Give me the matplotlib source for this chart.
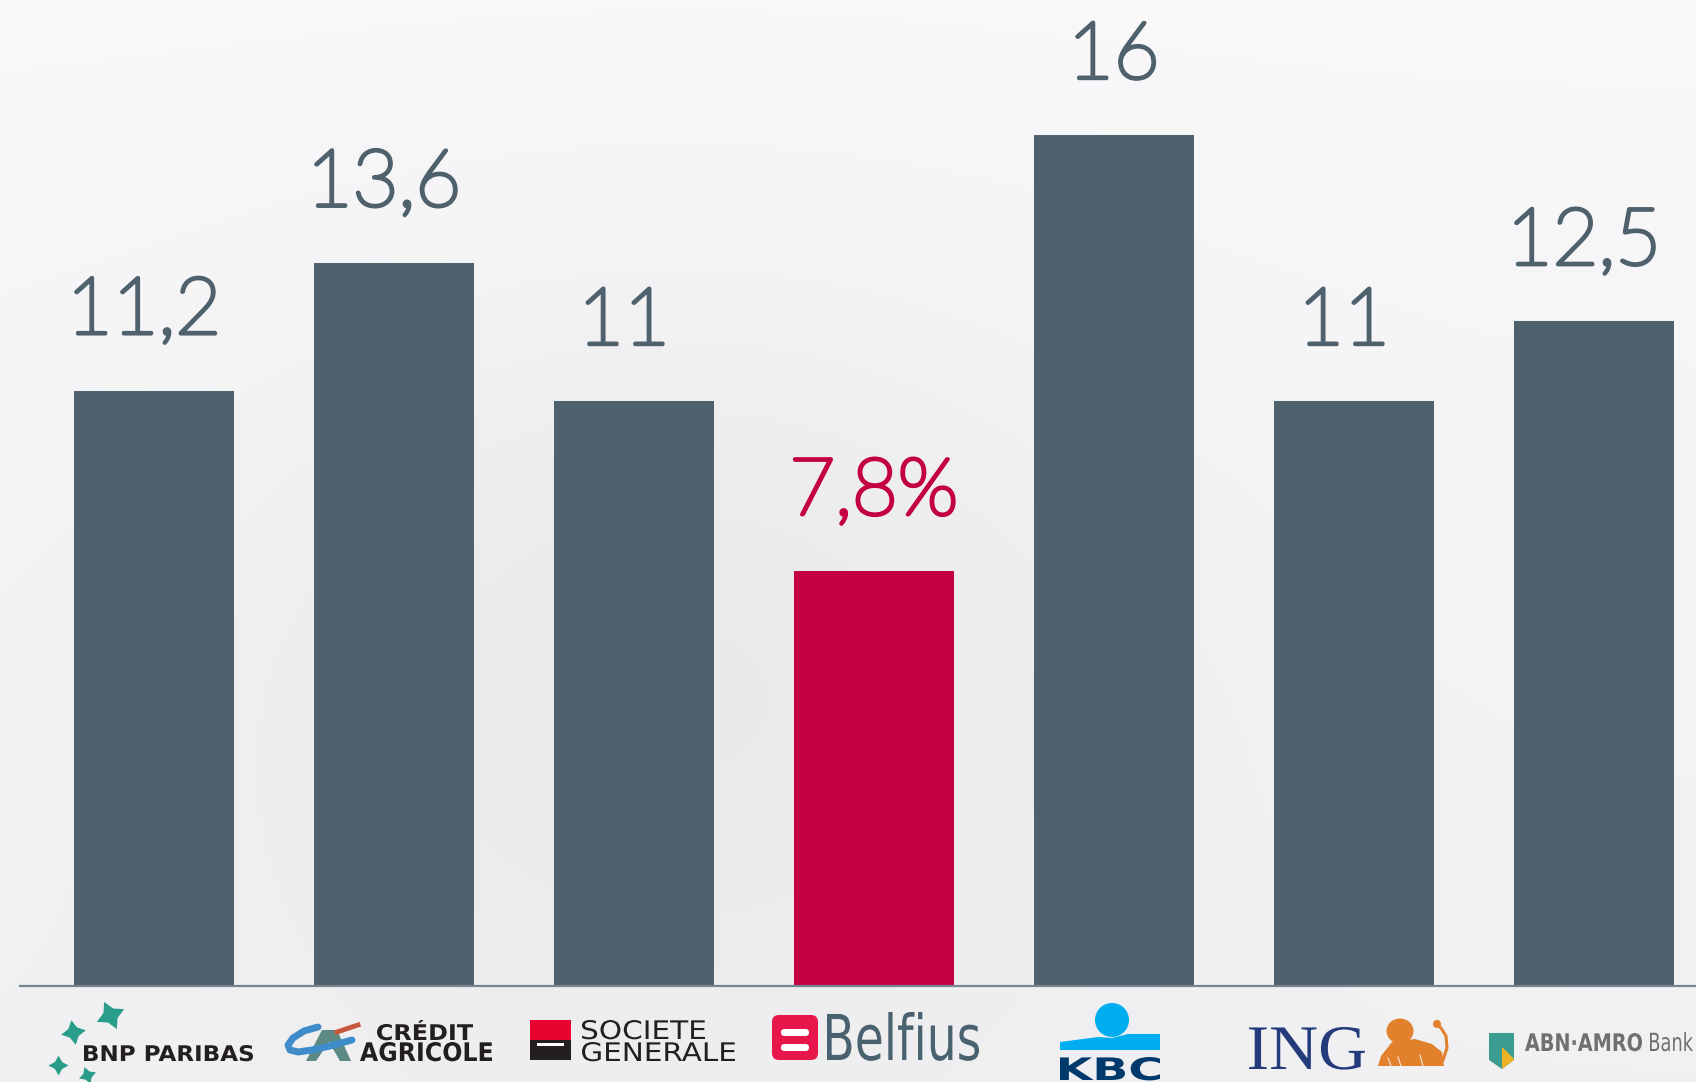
import numpy as np
import matplotlib.pyplot as plt
import matplotlib.patheffects as pe
from matplotlib.patches import Rectangle, FancyBboxPatch, Circle, Ellipse, Polygon, PathPatch
from matplotlib.textpath import TextPath
from matplotlib.font_manager import FontProperties
from matplotlib.transforms import Affine2D

###
# DATA
###
banks = ["BNP Paribas", "Crédit Agricole", "Société Générale", "Belfius", "KBC", "ING", "ABN AMRO"]
values = [11.2, 13.6, 11, 7.8, 16, 11, 12.5]
labels = ["11,2", "13,6", "11", "7,8%", "16", "11", "12,5"]
highlight = "Belfius"

SLATE = "#50616e"
RED = "#c30042"
W, H = 1696, 1082

fig = plt.figure(figsize=(W / 100, H / 100), dpi=100)

# soft grey backdrop (stand-in for the blurred photo)
bg = fig.add_axes([0, 0, 1, 1], zorder=0)
yy, xx = np.mgrid[0:1:240j, 0:1:380j]
lum = 0.975 - 0.03 * yy - 0.04 * np.exp(-((xx - 0.4) ** 2) / 0.08 - ((yy - 0.6) ** 2) / 0.12)
img = np.dstack([lum, lum, lum + 0.006])
bg.imshow(np.clip(img, 0, 1), aspect="auto", extent=[0, 1, 0, 1], interpolation="bicubic")
bg.axis("off")

###
# BARS
###
ax = fig.add_axes([0, 0, 1, 1], zorder=1)
ax.patch.set_alpha(0)
x = np.arange(len(banks))
colors = [RED if b == highlight else SLATE for b in banks]
ax.bar(x, values, width=0.667, color=colors, zorder=2)
ax.set_xlim(-153.6 / 240, (W - 153.6) / 240)
ax.set_ylim(-95.6 / 53.2, (H - 95.6) / 53.2)
ax.axhline(0, xmin=20 / W, xmax=1, color="#76858f", lw=1.6, zorder=3)

for xi, v, lab, c in zip(x, values, labels, colors):
    # labels led by a "1" sit a little left of the bar centre in the original
    dx = -7 if lab.startswith("1") and len(lab) != 2 or lab == "11" else 0
    ax.annotate(lab, (xi, v), xytext=(dx, 41), textcoords="offset points",
                ha="center", va="baseline", fontsize=57, color=c,
                family=["Lato", "DejaVu Sans"], weight="light",
                path_effects=[pe.withStroke(linewidth=2.8, foreground=c,
                                            capstyle="round", joinstyle="round")])
ax.axis("off")

###
# LOGOS (pixel coordinates, y down)
###
lx = fig.add_axes([0, 0, 1, 1], zorder=2)
lx.patch.set_alpha(0)
lx.set_xlim(0, W)
lx.set_ylim(H, 0)
lx.axis("off")


def logo_text(s, x0, x1, top, base, color, **font):
    # fit the glyph outlines into the box x0..x1, top..base
    tp = TextPath((0, 0), s, size=100, prop=FontProperties(**font))
    bb = tp.get_extents()
    tr = (Affine2D().translate(-bb.x0, 0)
          .scale((x1 - x0) / bb.width, -(base - top) / bb.y1)
          .translate(x0, base))
    lx.add_patch(PathPatch(tr.transform_path(tp), color=color, lw=0))


# BNP Paribas
teal = "#2a9d8a"
for (px, py, span, a) in [(110, 1015, 30, 25), (73, 1032, 25, 10), (58, 1065, 20, 0), (87, 1075, 18, 20)]:
    lx.scatter(px, py, s=(span * 0.72) ** 2, marker=(4, 1, a), color=teal, lw=0)
logo_text("BNP PARIBAS", 84, 253, 1045, 1061, "#231f20", family="DejaVu Sans", weight="bold")

# Credit Agricole
lx.add_patch(Polygon([(322, 1030), (337, 1030), (351, 1061), (340, 1061), (329, 1042),
                      (316, 1061), (306, 1061)], color="#5c8a82", lw=0))
lx.plot([318, 304, 293, 288, 290, 298, 312, 330, 352], [1027, 1031, 1038, 1045, 1050, 1052, 1050, 1046, 1040],
        color="#3f8ccb", lw=5, solid_capstyle="round", solid_joinstyle="round")
lx.plot([337, 358], [1032, 1025], color="#c8553d", lw=3.5)
logo_text("CRÉDIT", 377, 473, 1020, 1040, "#231f20", family="DejaVu Sans", weight="bold")
logo_text("AGRICOLE", 360, 492, 1042, 1061, "#231f20", family="DejaVu Sans", weight="bold")

# Societe Generale
lx.add_patch(Rectangle((530, 1020), 41, 20, color="#e9042f", lw=0))
lx.add_patch(Rectangle((530, 1040), 41, 20, color="#231f20", lw=0))
lx.add_patch(Rectangle((537, 1043), 27, 3, color="white", lw=0))
logo_text("SOCIETE", 582, 705, 1020, 1039, "#231f20", family="DejaVu Sans")
logo_text("GENERALE", 582, 735, 1042, 1061, "#231f20", family="DejaVu Sans")

# Belfius
lx.add_patch(FancyBboxPatch((772, 1015), 46, 45, boxstyle="round,pad=0,rounding_size=7",
                            color="#e8174b", lw=0))
for by in (1029, 1044):
    lx.add_patch(FancyBboxPatch((781, by), 28, 7, boxstyle="round,pad=0,rounding_size=3.5",
                                color="white", lw=0))
logo_text("Belfius", 827, 979, 1012, 1060, "#4a6170", family="DejaVu Sans")

# KBC
kbc_blue = "#00aeef"
lx.add_patch(Circle((1112, 1020), 17, color=kbc_blue, lw=0))
lx.add_patch(Polygon([(1060, 1042), (1098, 1037), (1112, 1038), (1128, 1034), (1160, 1034),
                      (1160, 1050), (1060, 1050)], color=kbc_blue, lw=0))
logo_text("KBC", 1060, 1160, 1057, 1080, "#003a6c", family="DejaVu Sans", weight="heavy")

# ING
logo_text("ING", 1249, 1365, 1027, 1069, "#233b7a", family=["Liberation Serif", "DejaVu Serif"])
lion = "#e2812c"
lx.add_patch(Polygon([(1378, 1066), (1381, 1056), (1392, 1042), (1415, 1039), (1432, 1044),
                      (1442, 1052), (1444, 1066)], color=lion, lw=0))
lx.add_patch(Ellipse((1400, 1031), 27, 25, color=lion, lw=0))
lx.plot([1443, 1447, 1446, 1441, 1436], [1060, 1048, 1036, 1028, 1024], color=lion, lw=2.2)
lx.add_patch(Circle((1437, 1024), 4, color=lion, lw=0))
for (a, b) in [((1388, 1058), (1391, 1066)), ((1398, 1057), (1401, 1066)), ((1420, 1055), (1423, 1066))]:
    lx.plot([a[0], b[0]], [a[1], b[1]], color="white", lw=0.8, alpha=0.8)

# ABN AMRO
lx.add_patch(Polygon([(1489, 1033), (1514, 1033), (1514, 1060), (1502, 1069), (1489, 1060)],
                     color="#3a9d8f", lw=0))
lx.add_patch(Polygon([(1502, 1047), (1514, 1059), (1514, 1060), (1502, 1069)], color="#f0b323", lw=0))
logo_text("ABN·AMRO", 1525, 1642, 1033, 1051, "#707070", family="DejaVu Sans", weight="bold")
logo_text("Bank", 1650, 1693, 1032, 1051, "#707070", family="DejaVu Sans")

fig.savefig("out.png", dpi=100)
